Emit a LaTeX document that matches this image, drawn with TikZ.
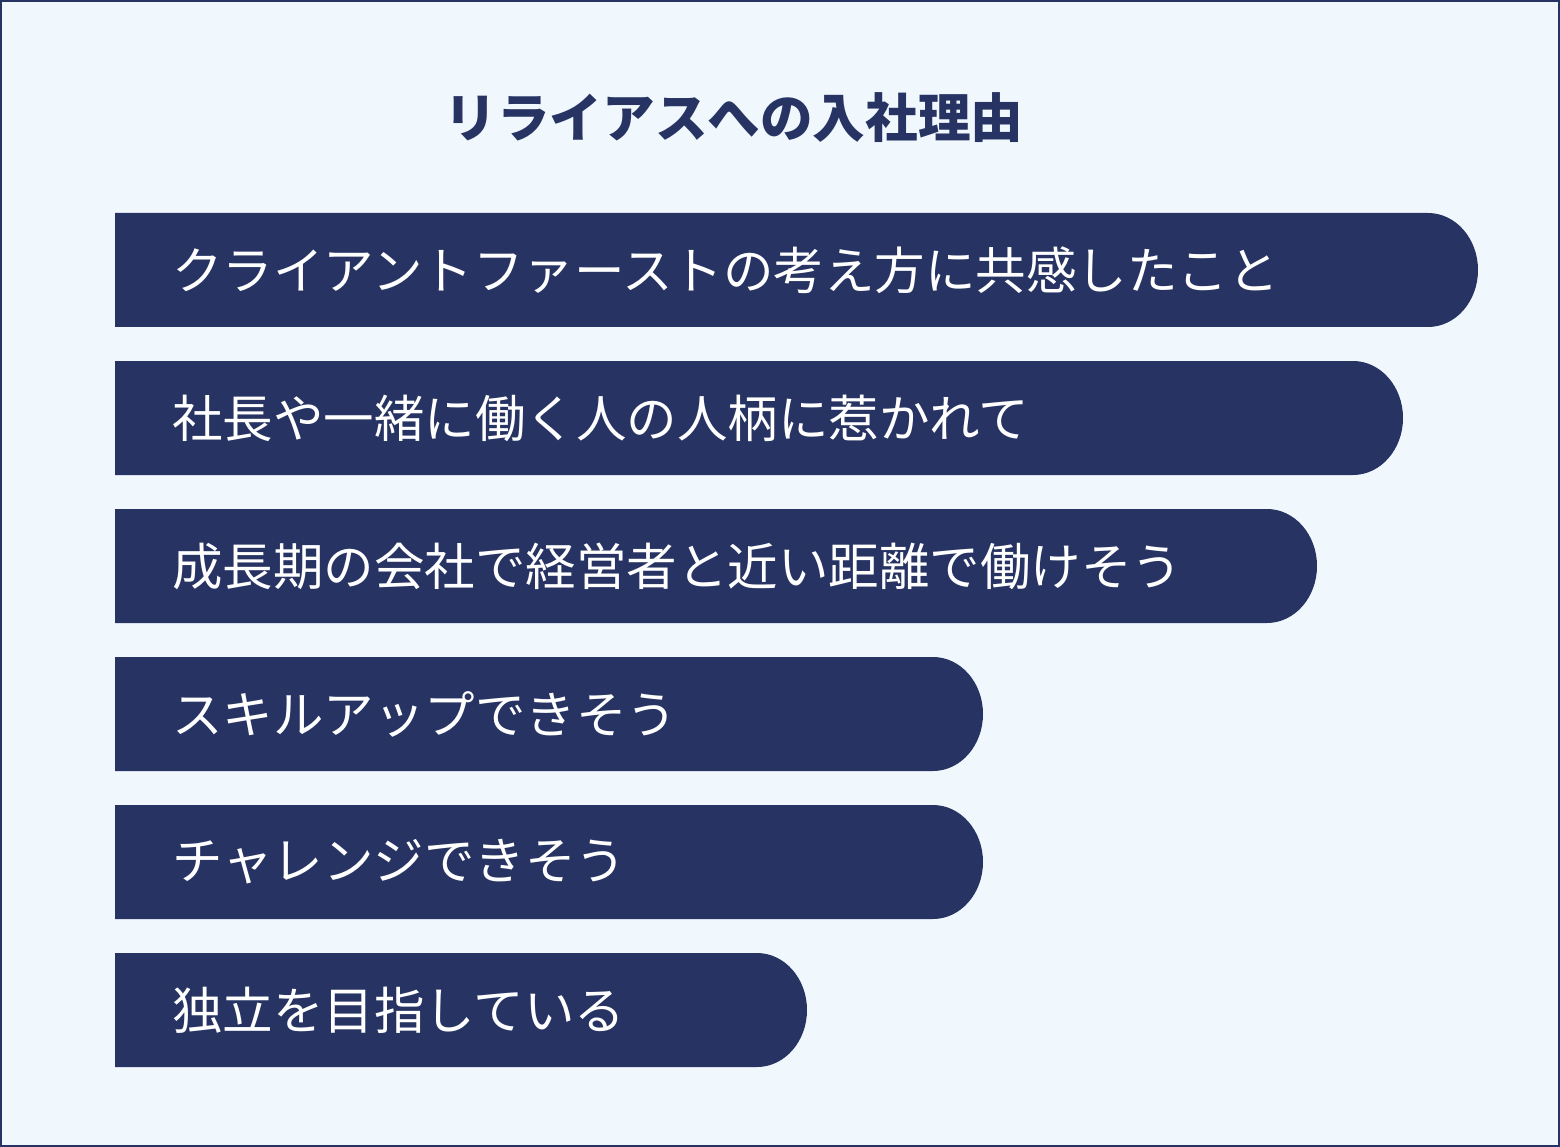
\documentclass[tikz,border=0pt]{standalone}
\usepackage{fontspec}
\setmainfont{Noto Sans CJK JP}
\definecolor{navy}{HTML}{273463}
\definecolor{bg}{HTML}{F0F8FE}
\begin{document}
\begin{tikzpicture}[x=1pt,y=-1pt]
\useasboundingbox (0,0) rectangle (1560,1147);
\fill[bg,draw=navy,line width=2pt] (1,1) rectangle (1559,1146);
\node[text=navy,font=\fontsize{52.6}{58}\selectfont\bfseries] (title) at (734,118) {リライアスへの入社理由};
\foreach \t/\r/\s [count=\i] in {213/1478/クライアントファーストの考え方に共感したこと,361/1403/社長や一緒に働く人の人柄に惹かれて,509/1317/成長期の会社で経営者と近い距離で働けそう,657/983/スキルアップできそう,805/983/チャレンジできそう,953/807/独立を目指している}{
  \fill[navy] (115,\t) -- ({\r-50},\t) arc[start angle=-90,end angle=90,x radius=50,y radius=57] -- (115,\t+114) -- cycle;
  \node[anchor=west,text=white,font=\fontsize{50.5}{56}\selectfont,inner sep=0] (b\i) at (172,\t+57) {\s};
}
\end{tikzpicture}
\end{document}
